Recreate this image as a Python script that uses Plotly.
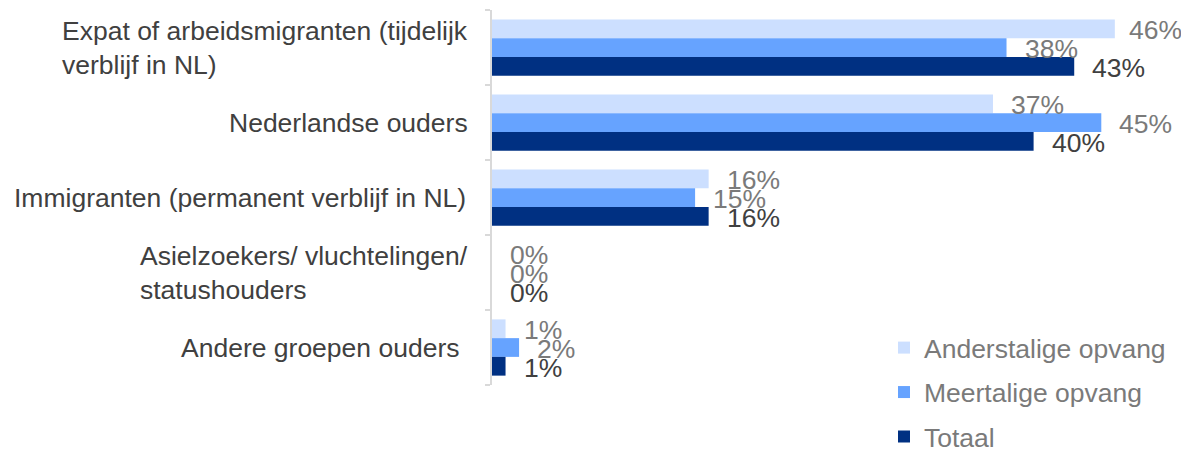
import plotly.graph_objects as go

categories = [
    "Expat of arbeidsmigranten (tijdelijk<br>verblijf in NL)",
    "Nederlandse ouders",
    "Immigranten (permanent verblijf in NL)",
    "Asielzoekers/ vluchtelingen/<br>statushouders",
    "Andere groepen ouders",
]
series_names = ["Anderstalige opvang", "Meertalige opvang", "Totaal"]
anderstalige = [0.46, 0.37, 0.16, 0.00, 0.01]
meertalige = [0.38, 0.45, 0.15, 0.00, 0.02]
totaal = [0.43, 0.40, 0.16, 0.00, 0.01]

series_values = [anderstalige, meertalige, totaal]
colors = ["#CCDFFF", "#66A3FF", "#003082"]
label_colors = ["#7a7a7a", "#7a7a7a", "#404040"]
FONT = "Liberation Sans, Arial, sans-serif"
FS = 26.5

W, H = 1181, 449
ML, MR, MT, MB = 492, 12, 10, 64
XMAX = 0.5
plot_w = W - ML - MR
px_per_unit = plot_w / XMAX
LABEL_W = 54  # approx pixel width of a "NN%" label
cat_label_shift = [-22, -22, -24, -22, -31]

cat_ids = list(range(len(categories)))

fig = go.Figure()
for name, vals, col in zip(series_names, series_values, colors):
    fig.add_trace(go.Bar(
        y=cat_ids, x=vals, name=name, orientation="h",
        marker=dict(color=col, line=dict(width=0)),
        legendgroup=name, hoverinfo="skip",
    ))

annotations = []
# data labels
for k, (vals, lc) in enumerate(zip(series_values, label_colors)):
    for i, v in enumerate(vals):
        shift = 16
        room = (plot_w + MR) - (v * px_per_unit + shift + LABEL_W)
        if room < 0:
            shift = max(8, shift + room)
        annotations.append(dict(
            x=v, y=cat_ids[i], xref="x", yref="y",
            text=f"{round(v*100)}%", showarrow=False,
            xanchor="left", yanchor="middle", xshift=shift,
            yshift=18.75 * (1 - k) - 1.5,
            font=dict(family=FONT, size=FS, color=lc),
        ))
# category labels
for i, c in enumerate(categories):
    annotations.append(dict(
        x=0, y=cat_ids[i], xref="paper", yref="y", text=c,
        showarrow=False, xanchor="right", yanchor="middle", align="left",
        xshift=cat_label_shift[i], font=dict(family=FONT, size=FS, color="#404040"),
    ))

fig.update_layout(
    width=W, height=H,
    margin=dict(l=ML, r=MR, t=MT, b=MB, autoexpand=False),
    paper_bgcolor="white", plot_bgcolor="white",
    barmode="group", bargap=0.25, bargroupgap=0,
    font=dict(family=FONT, size=FS, color="#404040"),
    xaxis=dict(range=[0, XMAX], showgrid=False, showticklabels=False,
               zeroline=False, showline=False, ticks=""),
    yaxis=dict(type="linear", range=[len(categories) - 0.5, -0.5],
               showgrid=False, zeroline=False, showticklabels=False,
               showline=True, linecolor="#d9d9d9", linewidth=1.5,
               tickmode="array",
               tickvals=[i - 0.5 for i in range(len(categories) + 1)],
               ticks="outside", ticklen=5, tickcolor="#d9d9d9", tickwidth=1.5),
    legend=dict(x=0.579, y=0.163, xanchor="left", yanchor="top",
                traceorder="grouped", tracegroupgap=7,
                font=dict(family=FONT, size=FS, color="#7a7a7a"),
                bgcolor="rgba(0,0,0,0)"),
    annotations=annotations,
    showlegend=True,
)
fig.update_traces(cliponaxis=False)
fig.write_html(
    "out.html",
    config={"displayModeBar": False},
    post_script="document.body.style.margin='0';document.body.style.overflow='hidden';",
)
